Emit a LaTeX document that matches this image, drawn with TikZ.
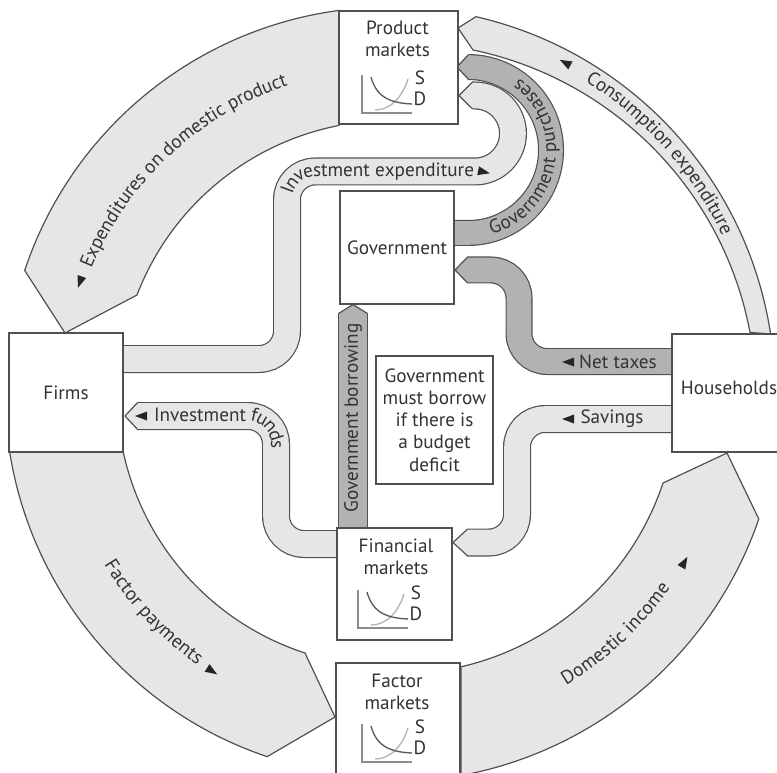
\documentclass[tikz,border=0pt]{standalone}
\usepackage{fontspec}
\setmainfont{PT Sans}
\usetikzlibrary{decorations.text}
\definecolor{edgecol}{HTML}{505050}
\definecolor{lightband}{HTML}{E6E6E6}
\definecolor{darkband}{HTML}{B2B2B2}
\definecolor{txtcol}{HTML}{333333}
\definecolor{tricol}{HTML}{262626}
\definecolor{axiscol}{HTML}{8C8C8C}
\definecolor{dcol}{HTML}{5A5A5A}
\definecolor{scol}{HTML}{B4B4B4}
\newcommand\labfont{\fontsize{14.4}{16.7}\selectfont}
\tikzset{
  bigband/.style={fill=lightband, draw=edgecol, line width=0.9pt, line join=round},
  bandL/.style={draw=edgecol, line width=0.9pt, double=lightband, double distance=19.2pt},
  bandD/.style={bandL, double=darkband},
  elbow/.style={rounded corners=21pt},
  headL/.style={fill=lightband, draw=edgecol, line width=0.9pt, line join=round},
  headD/.style={headL, fill=darkband},
  box/.style={draw=edgecol, fill=white, line width=0.8pt, inner sep=0pt},
  arclabel/.style={decorate, decoration={text along path, text color=txtcol, raise=-3.75pt, text align=center, text={|\labfont|#1}}},
  arclabelL/.style={decorate, decoration={text along path, text color=txtcol, raise=-3.75pt, text align=left, text={|\labfont|#1}}},
  arclabelR/.style={decorate, decoration={text along path, text color=txtcol, raise=-3.75pt, text align=right, text={|\labfont|#1}}},
  tri/.pic={\fill[tricol] (6,0) -- (-6,4.5) -- (-6,-4.5) -- cycle;},
  sdchart/.pic={
    \draw[axiscol, line width=0.8pt] (0,38) -- (0,0) -- (50,0);
    \draw[scol, line width=1pt] (13,3) .. controls (28,3) and (40,15) .. (46,34);
    \draw[dcol, line width=1pt] (9,36) .. controls (14,18) and (25,10) .. (50,9);
    \node (-s) at (58,35) {S};
    \node (-d) at (58,14) {D};
  }
}
\begin{document}
\begin{tikzpicture}[x=0.75pt, y=0.75pt, every node/.style={text=txtcol, font=\labfont}]
\useasboundingbox (0,0) rectangle (777,-773);

% ---- big outer bands ----
% Expenditures on domestic product
\filldraw[bigband] (339.1,-10.4) arc[start angle=97.6, end angle=161.6, radius=385]
  -- (65,-333) -- (137,-295) arc[start angle=159, end angle=101, radius=272] -- cycle;
% Factor payments
\filldraw[bigband] (9.7,-452) arc[start angle=189, end angle=251.4, radius=385]
  -- (335,-717) -- (305,-653) arc[start angle=252, end angle=192.2, radius=272] -- cycle;
% Domestic income
\filldraw[bigband] (461.1,-775.5) arc[start angle=280.5, end angle=341, radius=390]
  -- (727,-453) -- (663,-483) arc[start angle=341.6, end angle=283, radius=279] -- cycle;
% Consumption expenditure
\filldraw[bigband] (770.6,-334) arc[start angle=8.66, end angle=77.1, radius=385]
  -- (458,-28) -- (473,-50) arc[start angle=78.2, end angle=10.7, radius=356] -- cycle;

% ---- inner bands ----
% Investment expenditure
\draw[bandL] (123,-359) -- (259,-359) arc[start angle=-90, end angle=0, radius=28]
  -- (287,-199.5) arc[start angle=180, end angle=90, radius=28]
  -- (475,-171.5) arc[start angle=-90, end angle=90, radius=38] -- (472,-95.5);
\filldraw[headL] (472.5,-82.1) -- (459,-95.5) -- (472.5,-108.9);
% Investment funds
\draw[bandL, elbow] (137,-416) -- (276,-416) -- (276,-544) -- (337,-544);
\filldraw[headL] (137.5,-402.6) -- (125,-416) -- (137.5,-429.4);
% Government borrowing
\draw[bandD, double distance=20.7pt] (353,-528) -- (353,-313);
\filldraw[headD] (338.6,-313.5) -- (353,-304.5) -- (367.4,-313.5);
% Government purchases
\draw[bandD, double distance=17.7pt] (454,-233) -- (468,-233)
  arc[start angle=-90, end angle=90, radius=83];
\filldraw[headD] (468.5,-54.6) -- (457,-67) -- (468.5,-79.4);
% Net taxes
\draw[bandD, elbow, double distance=18.45pt] (672,-361.5) -- (519,-361.5) -- (519,-270) -- (467,-270);
\filldraw[headD] (467.5,-257.1) -- (455,-270) -- (467.5,-282.9);
% Savings
\draw[bandL, elbow] (672,-419) -- (517,-419) -- (517,-542.5) -- (467,-542.5);
\filldraw[headL] (467.5,-529.1) -- (453,-542.5) -- (467.5,-555.9);

% ---- boxes ----
\node[box, minimum width=89.25pt, minimum height=84.75pt] (prod) at (398.5,-67.5) {};
\node[box, minimum width=85.5pt, minimum height=84.75pt] (gov) at (397,-247.5) {Government};
\node[box, minimum width=85.5pt, minimum height=89.25pt] (firms) at (66,-392.5) {Firms};
\node[box, minimum width=88.5pt, minimum height=88.5pt] (hh) at (731,-393) {};
\node (hht) at (729,-388) {Households};
\node[box, minimum width=86.25pt, minimum height=84pt] (fin) at (394.5,-584) {};
\node[box, minimum width=93pt, minimum height=84pt] (fac) at (398,-719) {};
\node[box, minimum width=87.75pt, minimum height=96pt, align=center] (note) at (434.5,-420)
  {Government\\must borrow\\if there is\\a budget\\deficit};

\node[align=center] (prodt) at (397.5,-38.5) {Product\\markets};
\node[align=center] (fint) at (396,-557) {Financial\\markets};
\node[align=center] (fact) at (397,-692) {Factor\\markets};
\pic (pc) at (362,-113) {sdchart};
\pic (fc) at (358,-628) {sdchart};
\pic (xc) at (362,-762) {sdchart};

% ---- straight labels ----
\node (ntl) at (618,-362) {Net taxes};
\pic[rotate=180] at (568,-362) {tri};
\node (svl) at (612,-419) {Savings};
\pic[rotate=180] at (568,-419) {tri};
\node[rotate=90] (gbl) at (353,-418) {Government borrowing};

% ---- curved labels ----
\path[arclabelL={Investment funds}] (154,-416) -- (248,-416) arc[start angle=90, end angle=0, radius=28] -- (276,-500);
\pic[rotate=180] at (141,-416) {tri};
\path[arclabelR={Investment expenditure}] (287,-260) -- (287,-199.5) arc[start angle=180, end angle=90, radius=28] -- (474,-171.5);
\pic[rotate=-12] at (484,-172) {tri};
\path[arclabel={Government purchases}] ([shift={(468,-150)}]-88:83) arc[start angle=-88, end angle=68, radius=83];

\path[arclabel={Expenditures on domestic product}] ([shift={(390,-392)}]158:328) arc[start angle=158, end angle=108, radius=328];
\pic[rotate=250.5] at ([shift={(390,-392)}]160.5:329) {tri};
\path[arclabel={Consumption expenditure}] ([shift={(390,-392)}]59:372) arc[start angle=59, end angle=24, radius=372];
\pic[rotate=152] at ([shift={(390,-392)}]62:373) {tri};
\path[arclabel={Factor payments}] ([shift={(390,-392)}]210:329) arc[start angle=210, end angle=236, radius=329];
\pic[rotate=327.5] at ([shift={(390,-392)}]237.5:331) {tri};
\path[arclabel={Domestic income}] ([shift={(390,-392)}]300:337) arc[start angle=300, end angle=326, radius=337];
\pic[rotate=60] at ([shift={(390,-392)}]330:340) {tri};
\end{tikzpicture}
\end{document}
